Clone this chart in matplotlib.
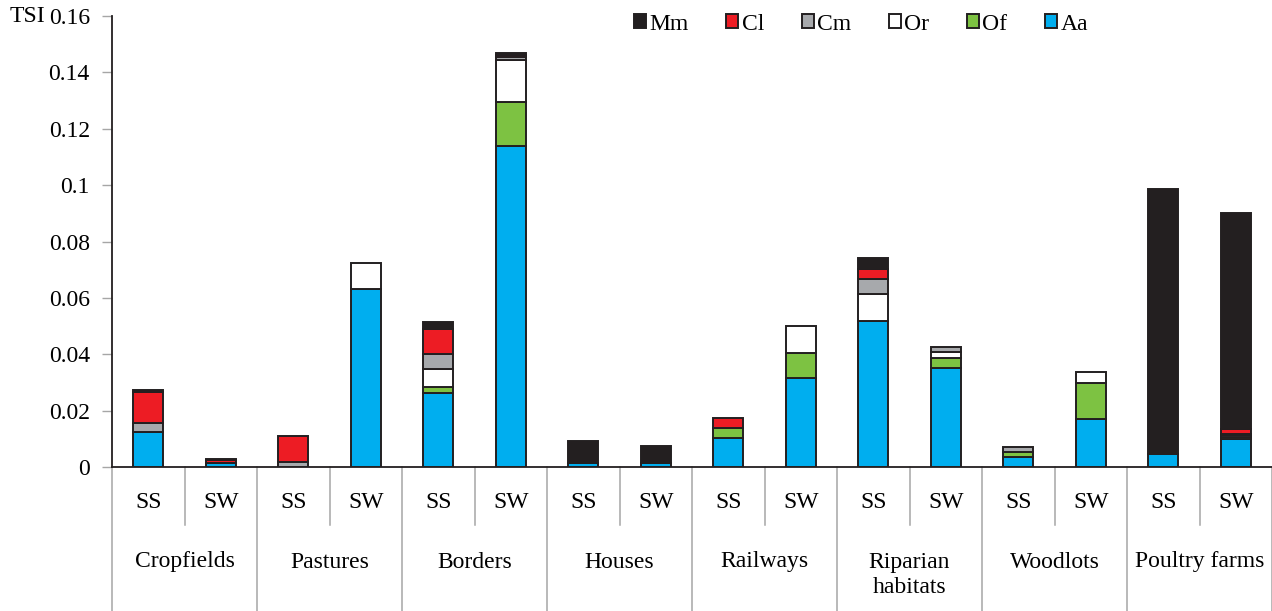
import matplotlib
matplotlib.use("Agg")
import matplotlib.pyplot as plt
import matplotlib.transforms as mtransforms
from matplotlib.patches import Patch
import numpy as np

plt.rcParams['font.family'] = ['Liberation Serif', 'DejaVu Serif']

groups = ["Cropfields", "Pastures", "Borders", "Houses", "Railways",
          "Riparian\nhabitats", "Woodlots", "Poultry farms"]
seasons = ["SS", "SW"]
y_ticks = [0, 0.02, 0.04, 0.06, 0.08, 0.1, 0.12, 0.14, 0.16]
y_tick_labels = ["0", "0.02", "0.04", "0.06", "0.08", "0.1", "0.12", "0.14", "0.16"]

# stacked components, bottom to top (SS, SW for each habitat)
Aa = [0.0125, 0.0015, 0.0, 0.0631, 0.0264, 0.1140, 0.0015, 0.0015,
      0.0104, 0.0315, 0.0519, 0.0350, 0.0037, 0.0169, 0.0046, 0.0100]
Of = [0.0, 0.0, 0.0, 0.0, 0.0019, 0.0156, 0.0, 0.0,
      0.0036, 0.0091, 0.0, 0.0038, 0.0016, 0.0130, 0.0, 0.0008]
Or = [0.0, 0.0, 0.0, 0.0092, 0.0065, 0.0149, 0.0, 0.0,
      0.0, 0.0094, 0.0093, 0.0020, 0.0, 0.0038, 0.0, 0.0004]
Cm = [0.0030, 0.0, 0.0019, 0.0, 0.0053, 0.0008, 0.0, 0.0,
      0.0, 0.0, 0.0054, 0.0017, 0.0019, 0.0, 0.0, 0.0004]
Cl = [0.0112, 0.0010, 0.0091, 0.0, 0.0088, 0.0010, 0.0, 0.0,
      0.0035, 0.0, 0.0036, 0.0, 0.0, 0.0, 0.0, 0.0018]
Mm = [0.0006, 0.0003, 0.0, 0.0, 0.0027, 0.0006, 0.0078, 0.0060,
      0.0, 0.0, 0.0039, 0.0, 0.0, 0.0, 0.0942, 0.0766]

series = [("Aa", Aa, "#00aeef"), ("Of", Of, "#7dc242"), ("Or", Or, "#ffffff"),
          ("Cm", Cm, "#a7a9ac"), ("Cl", Cl, "#ed1c24"), ("Mm", Mm, "#231f20")]

EDGE = "#231f20"
GRID = "#a6a6a6"
FS = 17

fig = plt.figure(figsize=(12.72, 6.11), dpi=100)
ax = fig.add_axes([112 / 1272, 1 - 467 / 611, 1 - 112 / 1272, (467 - 16) / 611])

n = len(Aa)
x = np.arange(n)
bottom = np.zeros(n)
for name, vals, col in series:
    v = np.array(vals)
    keep = v > 0
    ax.bar(x[keep], v[keep], width=0.41, bottom=bottom[keep], color=col,
           edgecolor=EDGE, linewidth=1.4, zorder=3)
    bottom += v

ax.set_xlim(-0.5, n - 0.5)
ax.set_ylim(0, 0.16)
ax.set_yticks(y_ticks)
ax.set_yticklabels(y_tick_labels, fontsize=FS)
ax.tick_params(axis='y', direction='out', length=7, width=1, color=GRID, pad=9)
ax.set_xticks([])
for s in ("top", "right"):
    ax.spines[s].set_visible(False)
ax.spines["left"].set_color(EDGE)
ax.spines["bottom"].set_color(EDGE)
ax.spines["left"].set_linewidth(1.3)
ax.spines["bottom"].set_linewidth(1.3)

fig.text(10 / 1272, 1 - 17 / 611, "TSI", fontsize=FS, ha="left", va="center")

# two-level category axis
tr = mtransforms.blended_transform_factory(ax.transData, fig.transFigure)
y_axis = 1 - 467 / 611
y_inner = 1 - 525 / 611
for k in range(n + 1):
    xb = k - 0.5
    y_end = 0.0 if k % 2 == 0 else y_inner
    ax.plot([xb, xb], [y_axis, y_end], color=GRID, lw=1.1, transform=tr,
            clip_on=False)
for i in range(n):
    t = fig.text(0, 0, seasons[i % 2], fontsize=FS, ha="center", va="center",
                 transform=tr)
    t.set_position((i, 1 - 503 / 611))
for g, name in enumerate(groups):
    yc = 1 - (575 if "\n" in name else 562) / 611
    t = fig.text(0, 0, name, fontsize=FS, ha="center", va="center",
                 transform=tr, linespacing=1.3)
    t.set_position((2 * g + 0.5, yc))

handles = [Patch(facecolor=col, edgecolor=EDGE, linewidth=1.4, label=name)
           for name, _, col in reversed(series)]
fig.legend(handles=handles, loc="center", bbox_to_anchor=(861 / 1272, 1 - 24 / 611),
           ncol=6, frameon=False, fontsize=FS, handlelength=0.5, handleheight=0.5,
           handletextpad=0.15, columnspacing=1.6)

fig.savefig("out.png", dpi=100)
